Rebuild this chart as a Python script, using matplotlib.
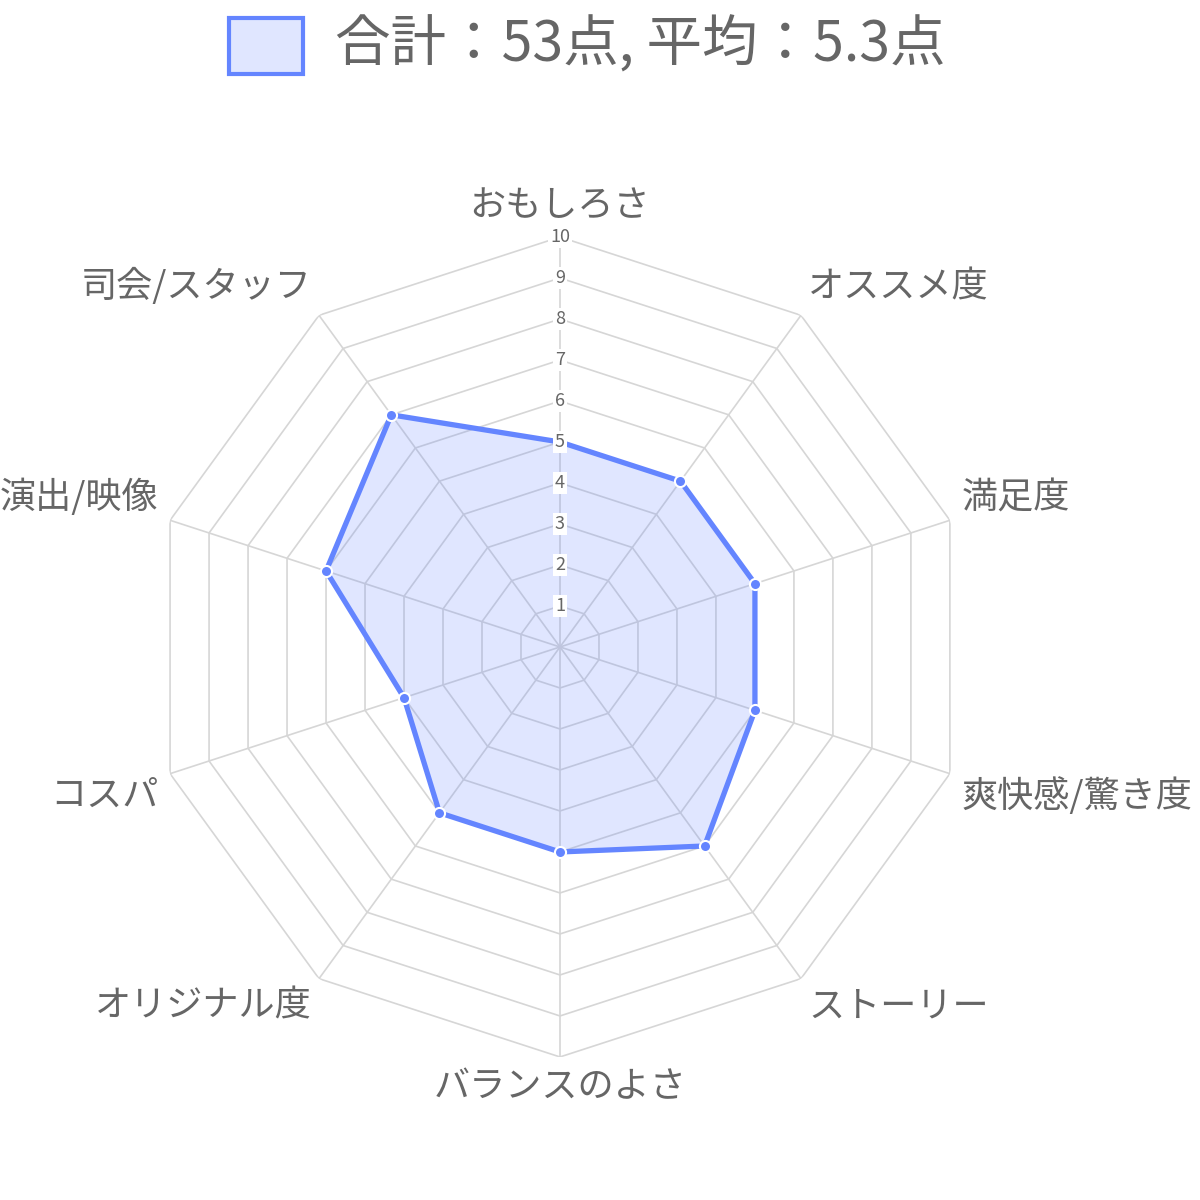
import numpy as np
import matplotlib
matplotlib.use('Agg')
import matplotlib.pyplot as plt
from matplotlib.patches import Rectangle

plt.rcParams['font.family'] = ['Noto Sans CJK JP', 'DejaVu Sans']

categories = ['おもしろさ', 'オススメ度', '満足度', '爽快感/驚き度', 'ストーリー',
              'バランスのよさ', 'オリジナル度', 'コスパ', '演出/映像', '司会/スタッフ']
scores = [5, 5, 5, 5, 6, 5, 5, 4, 6, 7]
ticks = [1, 2, 3, 4, 5, 6, 7, 8, 9, 10]
legend_label = f'合計：{sum(scores)}点, 平均：{sum(scores) / len(scores):.1f}点'

line_color = '#6485ff'
grid_color = '#d6d6d6'
text_color = '#666666'

fig = plt.figure(figsize=(12, 12), dpi=100)
ax = fig.add_axes([0.125, 0.1192, 0.6833, 0.6833], projection='polar')
ax.set_theta_zero_location('N')
ax.set_theta_direction(-1)
ax.set_ylim(0, 10)
ax.grid(False)
ax.set_xticks([])
ax.set_yticks([])
ax.spines['polar'].set_visible(False)
ax.patch.set_alpha(0)

n = len(categories)
angles = np.linspace(0, 2 * np.pi, n, endpoint=False)
closed = np.append(angles, angles[0])

# polygon grid and spokes
for t in ticks:
    ax.plot(closed, [t] * (n + 1), color=grid_color, lw=1.2, zorder=1)
for a in angles:
    ax.plot([a, a], [0, 10], color=grid_color, lw=1.2, zorder=1)

# data
vals = scores + scores[:1]
ax.fill(closed, vals, color=line_color, alpha=0.2, lw=0, zorder=2)
ax.plot(closed, vals, color=line_color, lw=3.8, zorder=3)
ax.plot(angles, scores, 'o', color=line_color, ms=8, mec='white', mew=1.5, zorder=4)

# tick labels
for t in ticks:
    ax.text(0, t, str(t), ha='center', va='center', fontsize=13, color=text_color, zorder=5,
            bbox=dict(boxstyle='square,pad=0.1', fc='white', ec='none'))

# category labels
for a, lab in zip(angles, categories):
    deg = np.degrees(a) % 360
    if deg < 1 or abs(deg - 180) < 1:
        ha = 'center'
    elif deg < 180:
        ha = 'left'
    else:
        ha = 'right'
    va = 'bottom' if (deg < 90 or deg > 270) else 'top'
    r = 10.3
    ax.text(a, r, lab, ha=ha, va=va, fontsize=26, color=text_color)

# legend
fig.add_artist(Rectangle((229 / 1200, 1 - 74 / 1200), 74 / 1200, 56 / 1200,
                         transform=fig.transFigure, fc=(0.392, 0.522, 1.0, 0.2),
                         ec=line_color, lw=3))
fig.text(335 / 1200, 1 - 46 / 1200, legend_label, ha='left', va='center',
         fontsize=40, color=text_color)

fig.savefig('out.png', dpi=100, facecolor='white')
